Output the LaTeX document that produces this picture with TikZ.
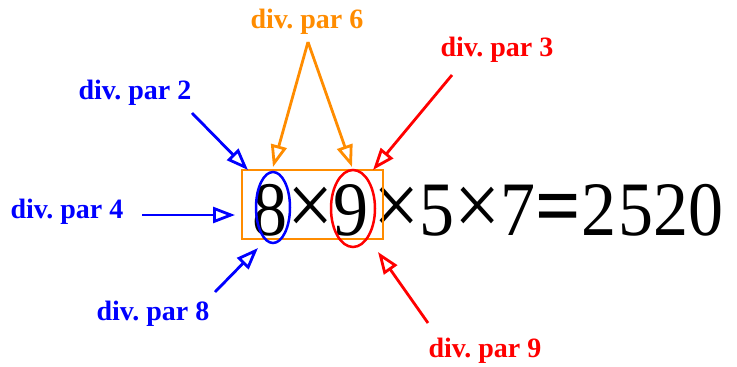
\documentclass[tikz,border=0pt]{standalone}
\usepackage{fontspec}
\setmainfont{Liberation Serif}
\usepackage{xcolor}
\usetikzlibrary{shapes.geometric, arrows.meta, positioning}
\definecolor{divorange}{RGB}{255,140,0}
\newcommand{\bigx}{{\fontsize{82}{90}\selectfont ×}}
\newcommand{\bigeq}{{\fontsize{80}{90}\selectfont\bfseries =}}
\frenchspacing

\begin{document}
\begin{tikzpicture}[x=1pt, y=-1pt,
    lbl/.style={inner sep=0pt, font=\fontsize{28}{30}\selectfont\bfseries},
    arr/.style={-{Triangle[open, length=22pt, width=16pt]}, line width=2.8pt},
    ring/.style={draw, ellipse, line width=2.5pt, inner sep=0pt}]
    \useasboundingbox (0,0) rectangle (737,367);

    % Product
    \node (prod) [anchor=base west, inner sep=0pt, font=\fontsize{70}{80}\selectfont] at (252,235)
        {\scalebox{1}[1.1]{8\bigx 9\hspace{5pt}\bigx 5\bigx 7\bigeq 2\hspace{2pt}520}};
    \node (box) [draw=divorange, line width=2.8pt, minimum width=141pt, minimum height=69pt, inner sep=0pt] at (312.5,204.5) {};
    \node (e8) [ring, blue, minimum width=34pt, minimum height=71pt] at (273,207.5) {};
    \node (e9) [ring, red, minimum width=44pt, minimum height=77pt] at (353,208.5) {};

    % Labels
    \node (l6) [lbl, divorange] at (307,22) {div. par 6};
    \node (l3) [lbl, red] at (497,50) {div. par 3};
    \node (l2) [lbl, blue] at (135,93) {div. par 2};
    \node (l4) [lbl, blue] at (67,212) {div. par 4};
    \node (l8) [lbl, blue] at (153,314) {div. par 8};
    \node (l9) [lbl, red] at (485,351) {div. par 9};

    % Arrow ends
    \coordinate (a6) at (308,42);
    \coordinate (s2) at (192,113);
    \coordinate (s3) at (452,75);
    \coordinate (s4) at (142,215);
    \coordinate (s8) at (215,292);
    \coordinate (s9) at (428,323);
    \coordinate (t6a) at (273,167);
    \coordinate (t6b) at (352,167);
    \coordinate (t2) at (248,170);
    \coordinate (t3) at (373,170);
    \coordinate (t4) at (235,215);
    \coordinate (t8) at (258,248);
    \coordinate (t9) at (378,252);

    % Connections
    \draw[arr, divorange] (a6) -- (t6a);
    \draw[arr, divorange] (a6) -- (t6b);
    \draw[arr, blue] (s2) -- (t2);
    \draw[arr, red] (s3) -- (t3);
    \draw[arr, blue] (s4) -- (t4);
    \draw[arr, blue] (s8) -- (t8);
    \draw[arr, red] (s9) -- (t9);
\end{tikzpicture}
\end{document}
